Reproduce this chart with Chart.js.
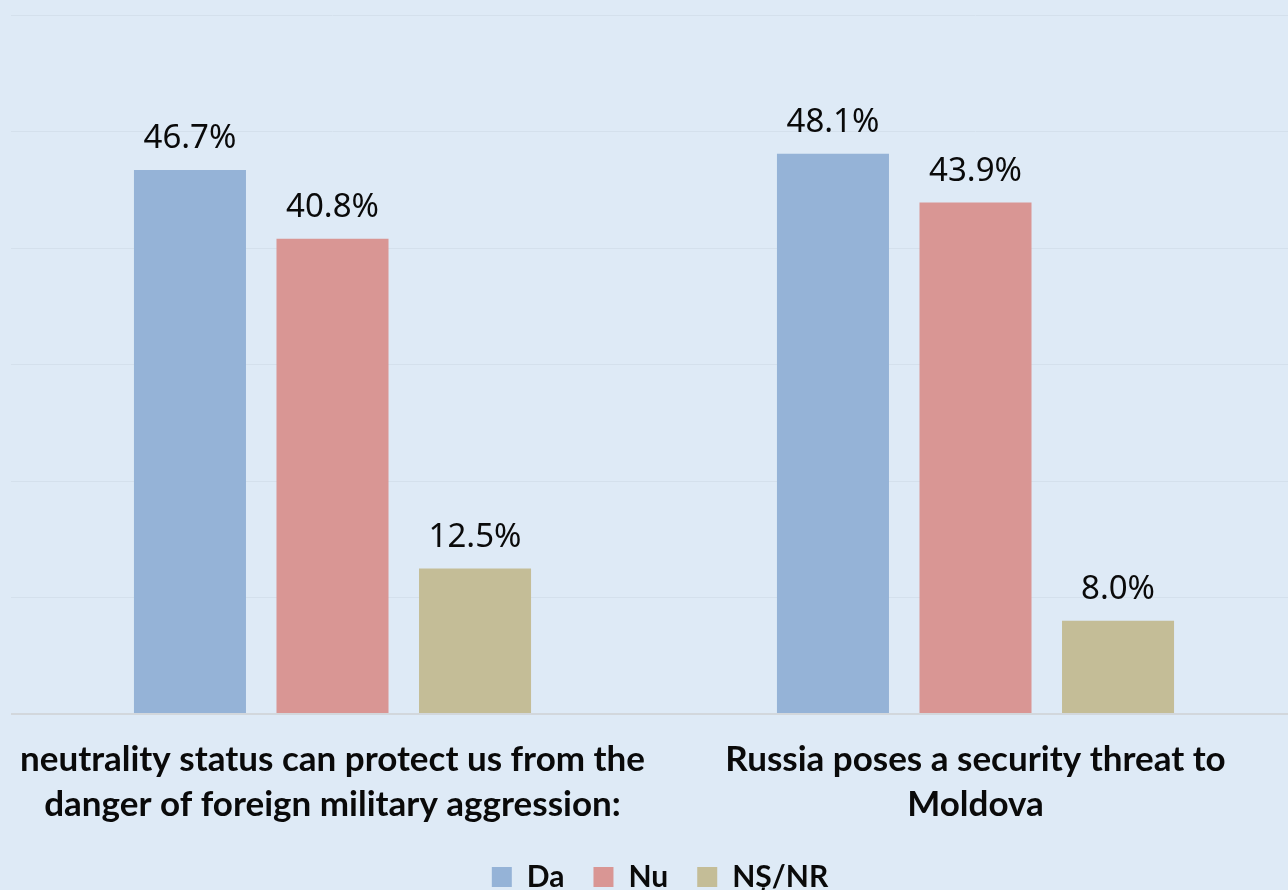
<!DOCTYPE html>
<html>
<head>
<meta charset="utf-8">
<script src="https://cdn.jsdelivr.net/npm/chart.js@4/dist/chart.umd.min.js"></script>
<style>
  html, body { margin: 0; padding: 0; background: #DEEAF6; overflow: hidden; }
  #wrap { width: 1297px; height: 890px; position: relative; }
</style>
</head>
<body>
<div id="wrap"><canvas id="c"></canvas></div>
<script>
const categories = [
  ["neutrality status can protect us from the", "danger of foreign military aggression:"],
  ["Russia poses a security threat to", "Moldova"]
];
const seriesNames = ["Da", "Nu", "NȘ/NR"];
const daValues = [46.7, 48.1];
const nuValues = [40.8, 43.9];
const nsValues = [12.5, 8.0];
const yTicks = [0, 10, 20, 30, 40, 50, 60];

const colors = ["#95B3D7", "#D99694", "#C4BD97"];

const valueLabels = {
  id: 'valueLabels',
  afterDatasetsDraw(chart) {
    const ctx = chart.ctx;
    ctx.save();
    ctx.font = '33px "Noto Sans"';
    ctx.fillStyle = '#0a0a0a';
    ctx.textAlign = 'center';
    ctx.textBaseline = 'middle';
    chart.data.datasets.forEach((ds, i) => {
      const meta = chart.getDatasetMeta(i);
      meta.data.forEach((bar, j) => {
        ctx.fillText(ds.data[j].toFixed(1) + '%', bar.x, bar.y - 31);
      });
    });
    ctx.restore();
  }
};

const legendShift = {
  id: 'legendShift',
  afterLayout(chart) {
    const lg = chart.legend;
    if (!lg) return;
    lg.left += 6; lg.right += 6;
    lg.top -= 17; lg.bottom -= 17;
  }
};

new Chart(document.getElementById('c'), {
  type: 'bar',
  data: {
    labels: categories,
    datasets: [
      { label: seriesNames[0], data: daValues, backgroundColor: colors[0] },
      { label: seriesNames[1], data: nuValues, backgroundColor: colors[1] },
      { label: seriesNames[2], data: nsValues, backgroundColor: colors[2] }
    ]
  },
  options: {
    responsive: true,
    maintainAspectRatio: false,
    animation: false,
    layout: { padding: { left: 11, right: 0, top: 15, bottom: -29 } },
    datasets: { bar: { categoryPercentage: 0.665, barPercentage: 0.786 } },
    scales: {
      x: {
        afterFit(scale) { scale.paddingLeft = 0; scale.paddingRight = 0; },
        grid: { display: false, drawTicks: false },
        border: { display: false },
        ticks: {
          padding: 23,
          color: '#0a0a0a',
          font: { family: 'Lato', weight: 'bold', size: 35, lineHeight: '45px' },
          maxRotation: 0, autoSkip: false
        }
      },
      y: {
        min: 0, max: 60,
        afterBuildTicks(axis) { axis.ticks = yTicks.map(v => ({ value: v })); },
        ticks: { display: false },
        border: { display: false },
        grid: {
          drawTicks: false,
          color: (c) => c.tick && c.tick.value === 0 ? '#D2D7DC' : '#D4E0EC',
          lineWidth: (c) => c.tick && c.tick.value === 0 ? 2 : 1
        }
      }
    },
    plugins: {
      legend: {
        position: 'bottom',
        labels: {
          boxWidth: 20, boxHeight: 20, padding: 29,
          color: '#0a0a0a',
          font: { family: 'Lato', weight: 'bold', size: 30 }
        }
      },
      tooltip: { enabled: false }
    }
  },
  plugins: [valueLabels, legendShift]
});
</script>
</body>
</html>
